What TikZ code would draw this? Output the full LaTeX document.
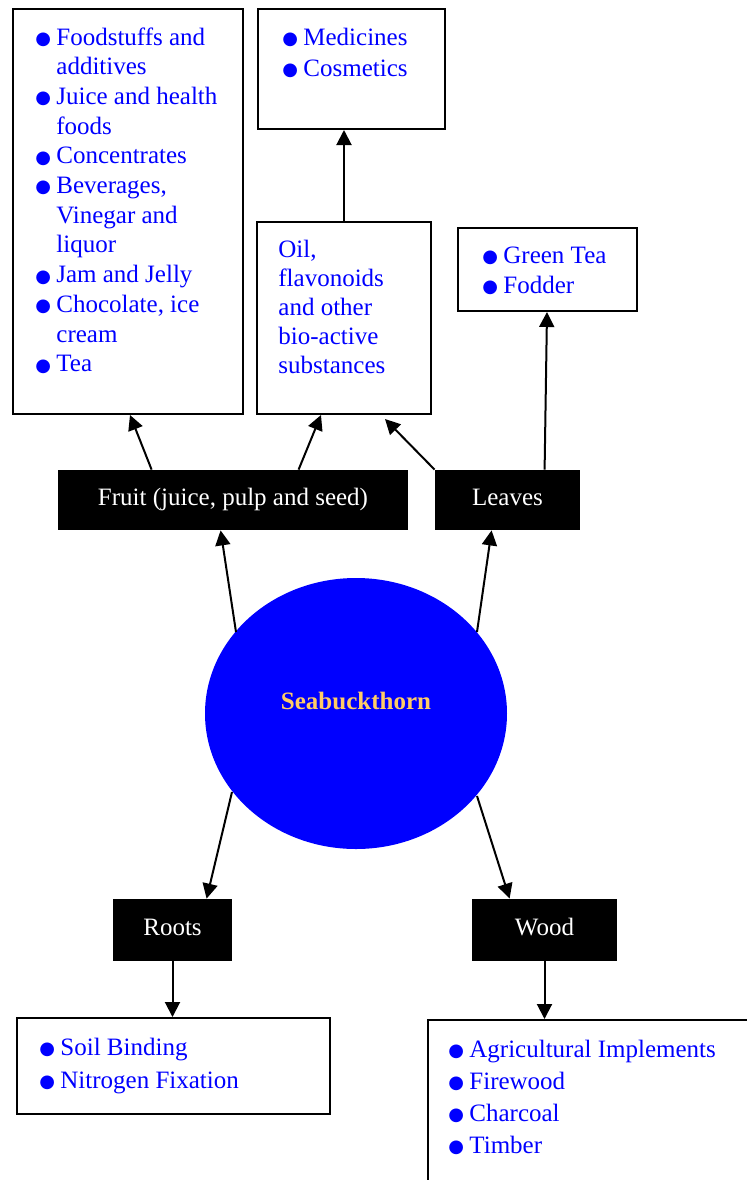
\documentclass[tikz,border=0pt]{standalone}
\usepackage{fontspec}
\setmainfont{Liberation Serif}
\newfontfamily\dotfont{DejaVu Sans}
\usepackage{xcolor}
\usepackage{tikz}
\usetikzlibrary{arrows.meta,calc,positioning,shapes.geometric}

\definecolor{itemblue}{RGB}{0,0,255}
\definecolor{plantgold}{RGB}{255,204,102}
\newcommand{\bul}{\makebox[10.5pt][l]{\raisebox{0.3pt}{\dotfont\fontsize{9}{9}\selectfont ●}}}

\tikzset{
  usebox/.style={draw, line width=1pt, inner sep=0pt},
  partbox/.style={fill=black, text=white, inner sep=0pt, text height=8pt, text depth=3pt, font=\fontsize{12.5}{15}\selectfont},
  itemlist/.style={anchor=base west, inner sep=0pt, text=itemblue},
  flow/.style={line width=1pt, -{Triangle[length=7.5pt,width=7.5pt]}}
}

\begin{document}
\begin{tikzpicture}[x=0.5pt,y=-0.5pt]
		\useasboundingbox (0,0) rectangle (746,1180);
		% boxes with the uses
		\node[usebox, minimum width=115pt, minimum height=202.5pt] (fruituses) at (128,211.5) {};
		\node[usebox, minimum width=93.5pt, minimum height=60pt] (medbox) at (351.5,69) {};
		\node[usebox, minimum width=87pt, minimum height=96pt] (oilbox) at (344,318) {};
		\node[usebox, minimum width=89.5pt, minimum height=41.5pt] (teabox) at (547.5,269.5) {};
		\node[usebox, minimum width=156.5pt, minimum height=48pt] (rootuses) at (173.5,1066) {};
		\node[usebox, anchor=north west, minimum width=170pt, minimum height=100pt] (wooduses) at (427,1019) {};
		% parts of the plant
		\node[partbox, minimum width=175pt, minimum height=30pt] (fruit) at (233,500) {Fruit (juice, pulp and seed)};
		\node[partbox, minimum width=72.5pt, minimum height=30pt] (leaves) at (507.5,500) {Leaves};
		\node[partbox, minimum width=59.5pt, minimum height=31pt] (roots) at (172.5,930) {Roots};
		\node[partbox, minimum width=72.5pt, minimum height=31pt] (wood) at (544.5,930) {Wood};
		\node[ellipse, fill=itemblue, inner sep=0pt, minimum width=151pt, minimum height=135.5pt] (plant) at (356,713.5) {};
		\node[text=plantgold, font=\fontsize{12.5}{15}\selectfont\bfseries] (plantname) at (356,701) {Seabuckthorn};
		% lists
		\node[itemlist, font=\fontsize{12.5}{14.85}\selectfont] (fruitlist) at (35,45) {\begin{tabular}[t]{@{}l@{}l@{}}
			\bul & Foodstuffs and\\ & additives\\
			\bul & Juice and health\\ & foods\\
			\bul & Concentrates\\
			\bul & Beverages,\\ & Vinegar and\\ & liquor\\
			\bul & Jam and Jelly\\
			\bul & Chocolate, ice\\ & cream\\
			\bul & Tea
		\end{tabular}};
		\node[itemlist, font=\fontsize{12.5}{15.5}\selectfont] (medlist) at (282,45) {\begin{tabular}[t]{@{}l@{}l@{}}
			\bul & Medicines\\
			\bul & Cosmetics
		\end{tabular}};
		\node[itemlist, font=\fontsize{12.5}{14.5}\selectfont] (oillist) at (278,257) {\begin{tabular}[t]{@{}l@{}}
			Oil,\\ flavonoids\\ and other\\ bio-active\\ substances
		\end{tabular}};
		\node[itemlist, font=\fontsize{12.5}{15}\selectfont] (tealist) at (482,263) {\begin{tabular}[t]{@{}l@{}l@{}}
			\bul & Green Tea\\
			\bul & Fodder
		\end{tabular}};
		\node[itemlist, font=\fontsize{12.5}{16.5}\selectfont] (rootlist) at (39,1055) {\begin{tabular}[t]{@{}l@{}l@{}}
			\bul & Soil Binding\\
			\bul & Nitrogen Fixation
		\end{tabular}};
		\node[itemlist, font=\fontsize{12.5}{16}\selectfont] (woodlist) at (448,1057) {\begin{tabular}[t]{@{}l@{}l@{}}
			\bul & Agricultural Implements\\
			\bul & Firewood\\
			\bul & Charcoal\\
			\bul & Timber
		\end{tabular}};
		% arrows
		\draw[flow] ($(plant)+(-120,-81.5)$) -- ($(fruit.south west)+(163,0)$);
		\draw[flow] ($(plant)+(121,-81.5)$) -- ($(leaves.south west)+(57,0)$);
		\draw[flow] ($(plant)+(-124,78.5)$) -- ($(roots.north west)+(94,0)$);
		\draw[flow] ($(plant)+(121,82.5)$) -- ($(wood.north west)+(38,0)$);
		\draw[flow] ($(fruit.north west)+(94,0)$) -- ($(fruituses.south west)+(118,0)$);
		\draw[flow] ($(fruit.north west)+(241,0)$) -- ($(oilbox.south west)+(65,0)$);
		\draw[flow] (leaves.north west) -- ($(oilbox.south east)+(-47,4)$);
		\draw[flow] ($(leaves.north west)+(110,0)$) -- ($(teabox.south west)+(90,0)$);
		\draw[flow] (oilbox.north) -- (oilbox.north |- medbox.south);
		\draw[flow] (roots.south) -- (roots.south |- rootuses.north);
		\draw[flow] (wood.south) -- (wood.south |- wooduses.north);
	\end{tikzpicture}
\end{document}
